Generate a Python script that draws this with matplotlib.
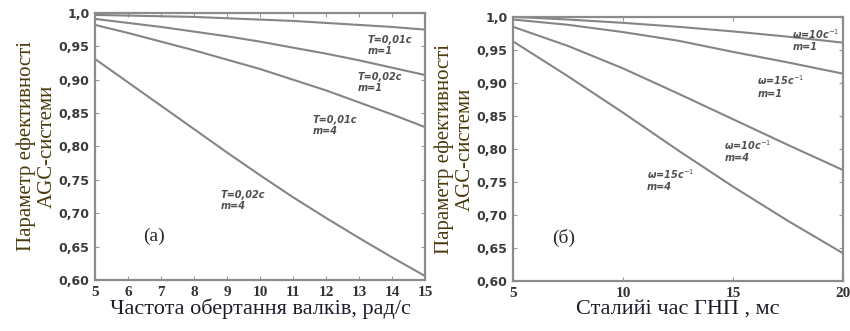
import numpy as np
import matplotlib
matplotlib.use('Agg')
from matplotlib import pyplot as plt

# panel (a): rotation frequency of rolls
x_a = [5, 6, 7, 8, 9, 10, 11, 12, 13, 14, 15]
a_T001_m1 = [0.997, 0.996, 0.995, 0.994, 0.992, 0.990, 0.988, 0.985, 0.982, 0.979, 0.975]
a_T002_m1 = [0.991, 0.985, 0.979, 0.972, 0.965, 0.957, 0.948, 0.939, 0.929, 0.918, 0.907]
a_T001_m4 = [0.982, 0.970, 0.957, 0.944, 0.930, 0.916, 0.900, 0.884, 0.866, 0.848, 0.829]
a_T002_m4 = [0.931, 0.896, 0.861, 0.826, 0.791, 0.757, 0.724, 0.693, 0.663, 0.634, 0.606]

# panel (b): time constant
x_b = [5, 7.5, 10, 12.5, 15, 17.5, 20]
b_w10_m1 = [1.000, 0.996, 0.991, 0.985, 0.978, 0.970, 0.961]
b_w15_m1 = [0.996, 0.988, 0.977, 0.964, 0.947, 0.931, 0.914]
b_w10_m4 = [0.985, 0.956, 0.922, 0.884, 0.845, 0.806, 0.768]
b_w15_m4 = [0.963, 0.910, 0.855, 0.798, 0.743, 0.691, 0.642]

yticks = [0.60, 0.65, 0.70, 0.75, 0.80, 0.85, 0.90, 0.95, 1.0]
ytick_labels = ['0,60', '0,65', '0,70', '0,75', '0,80', '0,85', '0,90', '0,95', '1,0']

line_col = '#858585'
txt_col = '#505050'
ylab_col = '#4a3a0c'
xlab_col = '#1c1c2c'

fig = plt.figure(figsize=(8.5, 3.31), dpi=100)
ax1 = fig.add_axes([0.1118, 0.154, 0.3882, 0.807])
ax2 = fig.add_axes([0.6035, 0.151, 0.3883, 0.798])

for ax in (ax1, ax2):
    ax.set_ylim(0.6, 1.0)
    ax.set_yticks(yticks)
    ax.set_yticklabels(ytick_labels, family='DejaVu Sans', fontsize=9,
                       color='#3a3a3a', fontweight='bold')
    ax.tick_params(direction='in', top=True, right=True, length=3,
                   color='#999999', pad=4)
    for s in ax.spines.values():
        s.set_color('#8c8c8c')
        s.set_linewidth(1.6)
    ax.set_ylabel('Параметр ефективності\nAGC-системи', family='Liberation Serif',
                  fontsize=15, color=ylab_col, linespacing=1.15, labelpad=1)

# (a)
for ys in (a_T001_m1, a_T002_m1, a_T001_m4, a_T002_m4):
    ax1.plot(x_a, ys, color=line_col, lw=1.5)
ax1.set_xlim(5, 15)
ax1.set_xticks(x_a)
ax1.set_xticklabels([str(v) for v in x_a], family='Liberation Serif', fontsize=11,
                    color='#333333', fontweight='bold')
ax1.set_xlabel('Частота обертання валків, рад/с', family='Liberation Serif',
               fontsize=16, color=xlab_col, labelpad=0)

ann = dict(fontsize=7, style='italic', fontweight='bold', color=txt_col,
           va='top', ha='left', linespacing=1.15)
ax1.text(13.25, 0.967, 'T=0,01c\nm=1', **ann)
ax1.text(12.95, 0.912, 'T=0,02c\nm=1', **ann)
ax1.text(11.6, 0.847, 'T=0,01c\nm=4', **ann)
ax1.text(8.8, 0.735, 'T=0,02c\nm=4', **ann)
ax1.text(6.8, 0.666, '(а)', family='Liberation Serif', fontsize=14,
         color='#2a2a2a', ha='center', va='center')

# (b)
for ys in (b_w10_m1, b_w15_m1, b_w10_m4, b_w15_m4):
    ax2.plot(x_b, ys, color=line_col, lw=1.5)
ax2.set_xlim(5, 20)
ax2.set_xticks([5, 10, 15, 20])
ax2.set_xticklabels(['5', '10', '15', '20'], family='Liberation Serif', fontsize=11,
                    color='#333333', fontweight='bold')
ax2.set_xlabel('Сталийі час ГНП , мс', family='Liberation Serif',
               fontsize=16, color=xlab_col, labelpad=0)

ax2.text(17.7, 0.985, 'ω=10c$^{-1}$\nm=1', **ann)
ax2.text(16.1, 0.914, 'ω=15c$^{-1}$\nm=1', **ann)
ax2.text(14.6, 0.816, 'ω=10c$^{-1}$\nm=4', **ann)
ax2.text(11.1, 0.773, 'ω=15c$^{-1}$\nm=4', **ann)
ax2.text(7.3, 0.665, '(б)', family='Liberation Serif', fontsize=14,
         color='#2a2a2a', ha='center', va='center')

fig.savefig('out.png', dpi=100, facecolor='white')
